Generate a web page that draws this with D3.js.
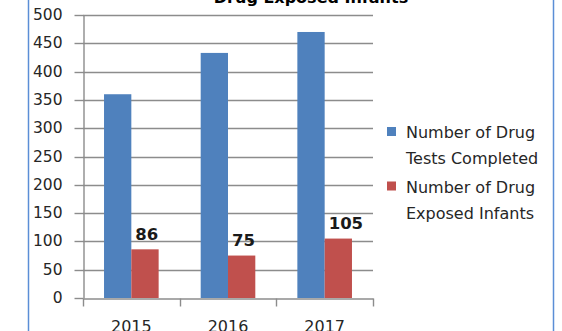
<!DOCTYPE html>
<html>
<head>
<meta charset="utf-8">
<script src="https://cdn.jsdelivr.net/npm/d3@7"></script>
<style>
  html, body { margin: 0; padding: 0; background: #fff; }
  svg text { font-family: "DejaVu Sans", sans-serif; fill: #262626; }
</style>
</head>
<body>
<svg id="chart" width="562" height="331"></svg>
<script>
// Chart data
const years = ["2015", "2016", "2017"];
const testsCompleted = [360, 433, 470];
const exposedInfants = [86, 75, 105];
const yTicks = [0, 50, 100, 150, 200, 250, 300, 350, 400, 450, 500];
const seriesNames = ["Number of Drug Tests Completed", "Number of Drug Exposed Infants"];
const legendLines = [["Number of Drug", "Tests Completed"], ["Number of Drug", "Exposed Infants"]];
const seriesColors = ["#4F81BD", "#C0504D"];
const title = "Drug Exposed Infants";

const svg = d3.select("#chart");
const gray = "#8c8c8c";

// Chart frame edges
svg.append("line").attr("x1", 28.5).attr("x2", 28.5).attr("y1", 0).attr("y2", 331)
  .attr("stroke", "#5B8ED6").attr("stroke-width", 1.5);
svg.append("line").attr("x1", 553.5).attr("x2", 553.5).attr("y1", 0).attr("y2", 331)
  .attr("stroke", "#5B8ED6").attr("stroke-width", 1.5);

const plot = { left: 83, right: 373, top: 15, bottom: 298 };

const x0 = d3.scaleBand().domain(years).range([plot.left, plot.right]).paddingInner(0).paddingOuter(0);
const x1 = d3.scaleBand().domain(seriesNames).range([0, x0.bandwidth()]).paddingOuter(0.77).paddingInner(0);
const y = d3.scaleLinear().domain([0, 500]).range([plot.bottom, plot.top]);

// Title (partly above the visible area)
svg.append("text").attr("x", 311).attr("y", 3).attr("text-anchor", "middle")
  .attr("font-size", 16).attr("font-weight", "bold").style("fill", "#000").text(title);

// Horizontal gridlines
svg.append("g").selectAll("line").data(yTicks.filter(d => d > 0)).join("line")
  .attr("x1", plot.left).attr("x2", plot.right)
  .attr("y1", d => Math.round(y(d)) + 0.5).attr("y2", d => Math.round(y(d)) + 0.5)
  .attr("stroke", gray).attr("stroke-width", 1.4);

// Y axis
const yAxis = d3.axisLeft(y).tickValues(yTicks).tickSize(9).tickPadding(12).tickSizeOuter(0);
const gy = svg.append("g").attr("transform", `translate(${plot.left + 0.5},0)`).call(yAxis);
gy.select(".domain").attr("stroke", gray).attr("stroke-width", 1.4);
gy.selectAll(".tick line").attr("stroke", gray).attr("stroke-width", 1.4);
gy.selectAll(".tick text").attr("font-size", 15.5).attr("font-family", "DejaVu Sans, sans-serif").attr("fill", "#262626");
gy.selectAll(".tick").attr("transform", d => `translate(0,${Math.round(y(d)) + 0.5})`);

// Bars
const groups = svg.append("g").selectAll("g").data(years).join("g")
  .attr("transform", d => `translate(${x0(d)},0)`);
groups.selectAll("rect")
  .data((d, i) => [
    { s: seriesNames[0], v: testsCompleted[i], c: seriesColors[0] },
    { s: seriesNames[1], v: exposedInfants[i], c: seriesColors[1] }
  ])
  .join("rect")
  .attr("x", d => x1(d.s)).attr("width", x1.bandwidth())
  .attr("y", d => y(d.v)).attr("height", d => y(0) - y(d.v))
  .attr("fill", d => d.c);

// Data labels on the infants series
groups.append("text")
  .attr("x", x1(seriesNames[1]) + 4)
  .attr("y", (d, i) => y(exposedInfants[i]) - 9.5)
  .attr("text-anchor", "start").attr("font-size", 16.5).attr("font-weight", "bold")
  .style("fill", "#1a1a1a")
  .text((d, i) => exposedInfants[i]);

// X axis
const xAxis = d3.axisBottom(x0).tickSize(0).tickPadding(22);
const gx = svg.append("g").attr("transform", `translate(0,${Math.round(y(0)) + 0.5})`).call(xAxis);
gx.select(".domain").attr("stroke", gray).attr("stroke-width", 1.4);
gx.selectAll(".tick text").attr("font-size", 16).attr("font-family", "DejaVu Sans, sans-serif").attr("fill", "#262626")
  .attr("dy", "0.71em");
// Category boundary tick marks
gx.append("g").selectAll("line").data(years.map(d => x0(d)).concat([x0(years[years.length - 1]) + x0.bandwidth()]))
  .join("line")
  .attr("x1", d => Math.round(d) + 0.5).attr("x2", d => Math.round(d) + 0.5)
  .attr("y1", 0).attr("y2", 8)
  .attr("stroke", gray).attr("stroke-width", 1.4);

// Legend
const legend = svg.append("g").attr("transform", "translate(387,0)");
const legendY = [131.5, 186];
legendLines.forEach((lines, i) => {
  legend.append("rect").attr("x", 0).attr("y", legendY[i] - 4.5).attr("width", 9).attr("height", 9)
    .attr("fill", seriesColors[i]);
  lines.forEach((t, j) => {
    legend.append("text").attr("x", 19).attr("y", legendY[i] + j * 26 + 6.5)
      .attr("font-size", 16).text(t);
  });
});
</script>
</body>
</html>
